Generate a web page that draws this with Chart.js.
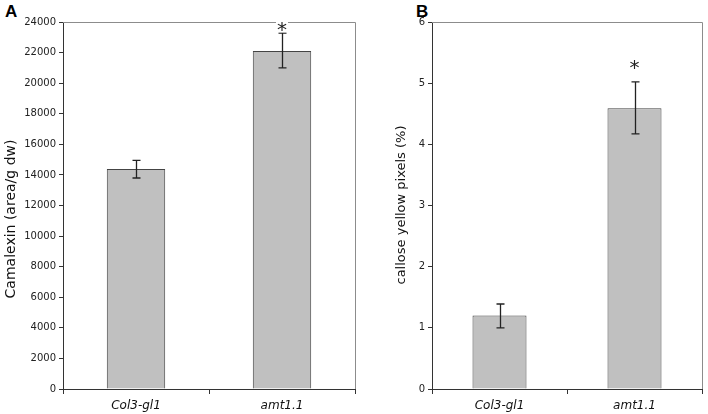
<!DOCTYPE html>
<html>
<head>
<meta charset="utf-8">
<script src="https://cdn.jsdelivr.net/npm/chart.js@4"></script>
<style>
  body { margin: 0; background: #fff; width: 708px; height: 414px; position: relative; overflow: hidden; font-family: "DejaVu Sans", sans-serif; }
  .pane { position: absolute; top: 0; height: 414px; }
  .lbl { position: absolute; top: 2px; font: bold 17px "Liberation Sans", Arial, sans-serif; color: #000; }
</style>
</head>
<body>
<div class="lbl" style="left:5px">A</div>
<div class="lbl" style="left:416px">B</div>
<div class="pane" style="left:0;width:360px"><canvas id="bieuDoA"></canvas></div>
<div class="pane" style="left:390px;width:318px"><canvas id="bieuDoB"></canvas></div>
<script>
const nhan = ['Col3-gl1', 'amt1.1'];

// Panel A - camalexin
const camalexin = [14380, 22100];
const camalexinLow = [13800, 21000];
const camalexinHigh = [14950, 23270];
const camalexinSao = [null, 23650];

// Panel B - callose
const callose = [1.2, 4.59];
const calloseLow = [1.0, 4.17];
const calloseHigh = [1.39, 5.02];
const calloseSao = [null, 5.28];

const thanhLoi = {
    id: 'thanhLoi',
    afterDatasetsDraw(chart, args, opts) {
        const ctx = chart.ctx;
        const y = chart.scales.y;
        const meta = chart.getDatasetMeta(0);
        ctx.save();
        ctx.strokeStyle = '#222';
        ctx.lineWidth = 1.3;
        meta.data.forEach((bar, i) => {
            const x = Math.round(bar.x) + 0.5;
            const yLo = y.getPixelForValue(opts.low[i]);
            const yHi = y.getPixelForValue(opts.high[i]);
            ctx.beginPath();
            ctx.moveTo(x, yLo); ctx.lineTo(x, yHi);
            ctx.moveTo(x - 4, yLo); ctx.lineTo(x + 4, yLo);
            ctx.moveTo(x - 4, yHi); ctx.lineTo(x + 4, yHi);
            ctx.stroke();
        });
        // khung xam tren + phai
        const a = chart.chartArea;
        ctx.strokeStyle = '#8c8c8c';
        ctx.lineWidth = 1;
        ctx.beginPath();
        ctx.moveTo(a.left, a.top + 0.5); ctx.lineTo(a.right + 0.5, a.top + 0.5); ctx.lineTo(a.right + 0.5, a.bottom);
        ctx.stroke();
        // dau sao
        ctx.font = '20px "DejaVu Sans", sans-serif';
        ctx.textAlign = 'center';
        ctx.textBaseline = 'middle';
        meta.data.forEach((bar, i) => {
            if (opts.sao[i] == null) return;
            const ys = y.getPixelForValue(opts.sao[i]);
            ctx.fillStyle = '#fff';
            ctx.fillRect(bar.x - 6, ys - 8, 12, 13);
            ctx.fillStyle = '#222';
            ctx.fillText('*', bar.x, ys + 3);
        });
        // tieu de truc y
        ctx.translate(opts.titleX, opts.titleY);
        ctx.rotate(-Math.PI / 2);
        ctx.font = opts.titleSize + 'px "DejaVu Sans", sans-serif';
        ctx.fillStyle = '#111';
        ctx.fillText(opts.title, 0, 0);
        ctx.restore();
    }
};

function veBieuDo(id, data, low, high, sao, maxY, buoc, tieuDe, doRongTruc, padPhai, tx, ty, coTieuDe) {
    const ctx = document.getElementById(id).getContext('2d');
    return new Chart(ctx, {
        type: 'bar',
        data: {
            labels: nhan,
            datasets: [{
                data: data,
                backgroundColor: '#c0c0c0',
                borderColor: '#444',
                borderWidth: 1,
                barPercentage: 0.8,
                categoryPercentage: 0.5
            }]
        },
        options: {
            responsive: true,
            maintainAspectRatio: false,
            animation: false,
            layout: { padding: { top: 22, right: padPhai, left: 0, bottom: 0 } },
            plugins: {
                legend: { display: false },
                tooltip: { enabled: false },
                thanhLoi: { low: low, high: high, sao: sao, title: tieuDe, titleX: tx, titleY: ty, titleSize: coTieuDe }
            },
            scales: {
                x: {
                    grid: { offset: true, drawOnChartArea: false, tickLength: 5, color: '#333' },
                    border: { color: '#333', width: 1 },
                    ticks: { color: '#111', padding: 5, font: { family: 'DejaVu Sans', size: 12, style: 'italic' } },
                    afterFit: s => { s.height = 25; }
                },
                y: {
                    min: 0, max: maxY,
                    grid: { drawOnChartArea: false, tickLength: 4, color: '#333' },
                    border: { color: '#333', width: 1 },
                    ticks: { stepSize: buoc, color: '#222', padding: 3, font: { family: 'DejaVu Sans', size: 10 },
                             callback: v => String(v) },
                    afterFit: s => { s.width = doRongTruc; }
                }
            }
        },
        plugins: [thanhLoi]
    });
}

veBieuDo('bieuDoA', camalexin, camalexinLow, camalexinHigh, camalexinSao, 24000, 2000,
    'Camalexin (area/g dw)', 63, 5, 11, 219, 14);
veBieuDo('bieuDoB', callose, calloseLow, calloseHigh, calloseSao, 6, 1,
    'callose yellow pixels (%)', 42, 6, 12, 205, 13);
</script>
</body>
</html>
